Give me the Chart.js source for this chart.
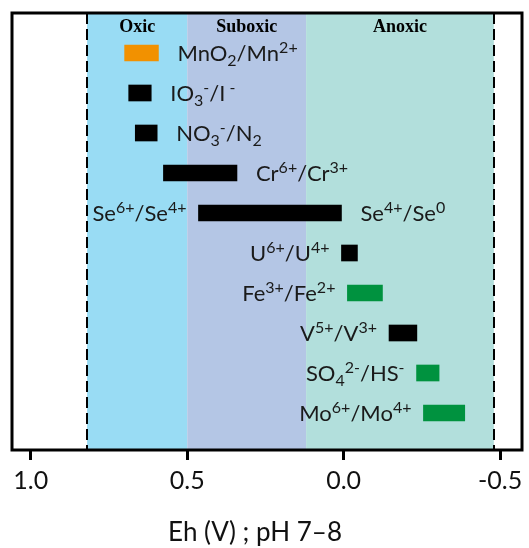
<!DOCTYPE html>
<html><head><meta charset="utf-8">
<script src="https://cdn.jsdelivr.net/npm/chart.js@4.4.1/dist/chart.umd.min.js"></script>
<style>html,body{margin:0;padding:0;background:#fff}#wrap{width:529px;height:548px}</style>
</head><body><div id="wrap"><canvas id="c" width="529" height="548"></canvas></div>
<script>
// ---- data ----
const couples = ["MnO2/Mn2+","IO3-/I-","NO3-/N2","Cr6+/Cr3+","Se6+/Se4+/Se0","U6+/U4+","Fe3+/Fe2+","V5+/V3+","SO42-/HS-","Mo6+/Mo4+"];
const ehHigh = [0.70, 0.687, 0.666, 0.576, 0.464, 0.007, -0.012, -0.145, -0.233, -0.255];
const ehLow  = [0.592, 0.615, 0.596, 0.341, 0.007, -0.044, -0.124, -0.234, -0.305, -0.387];
const barColors = ["#F29100","#000000","#000000","#000000","#000000","#000000","#00923F","#000000","#00923F","#00923F"];
const labelsRight = ["MnO_{2}/Mn^{2+}","IO_{3}^{-}/I^{ -}","NO_{3}^{-}/N_{2}","Cr^{6+}/Cr^{3+}","Se^{4+}/Se^{0}","","","","",""];
const labelsLeft  = ["","","","","Se^{6+}/Se^{4+}","U^{6+}/U^{4+}","Fe^{3+}/Fe^{2+}","V^{5+}/V^{3+}","SO_{4}^{2-}/HS^{-}","Mo^{6+}/Mo^{4+}"];
const zoneNames = ["Oxic","Suboxic","Anoxic"];
const zoneEdges = [0.82, 0.50, 0.12, -0.48];
const zoneColors = ["#99DCF4","#B4C6E5","#B2DFDC"];
const xTicks = [1.0, 0.5, 0.0, -0.5];
const xTitle = "Eh (V) ; pH 7\u20138";

const LABEL_FONT = "Lato";
const MAIN = 22, SMALL = 16;

function parseRich(s){
  const out=[]; let i=0, buf="";
  while(i<s.length){
    const ch=s[i];
    if((ch==='_'||ch==='^') && s[i+1]==='{'){
      if(buf){out.push({t:buf,m:'n'});buf="";}
      const end=s.indexOf('}',i);
      out.push({t:s.slice(i+2,end),m:ch==='_'?'sub':'sup'});
      i=end+1;
    } else {buf+=ch;i++;}
  }
  if(buf) out.push({t:buf,m:'n'});
  return out;
}
function richWidth(ctx,tokens){
  let w=0;
  for(const tk of tokens){
    ctx.font=(tk.m==='n'?MAIN:SMALL)+"px "+LABEL_FONT;
    w+=ctx.measureText(tk.t).width;
  }
  return w;
}
function drawRich(ctx,tokens,x,y){
  for(const tk of tokens){
    const sz = tk.m==='n'?MAIN:SMALL;
    ctx.font=sz+"px "+LABEL_FONT;
    const dy = tk.m==='sup'?-8:(tk.m==='sub'?5:0);
    ctx.fillText(tk.t,x,y+dy);
    x+=ctx.measureText(tk.t).width;
  }
}

const decor = {
  id:'decor',
  beforeDatasetsDraw(chart){
    const {ctx, chartArea:a, scales:{x}} = chart;
    ctx.save();
    for(let i=0;i<zoneNames.length;i++){
      const x0=x.getPixelForValue(zoneEdges[i]), x1=x.getPixelForValue(zoneEdges[i+1]);
      ctx.fillStyle=zoneColors[i];
      ctx.fillRect(x0,a.top,x1-x0,a.bottom-a.top);
    }
    ctx.strokeStyle="#000"; ctx.lineWidth=2; ctx.setLineDash([11,5]);
    for(const v of [zoneEdges[0], zoneEdges[zoneEdges.length-1]]){
      const px=Math.round(x.getPixelForValue(v));
      ctx.beginPath(); ctx.moveTo(px,a.top); ctx.lineTo(px,a.bottom); ctx.stroke();
    }
    ctx.setLineDash([]);
    ctx.fillStyle="#000"; ctx.font="bold 18px 'Liberation Serif'";
    ctx.textAlign="center"; ctx.textBaseline="middle";
    for(let i=0;i<zoneNames.length;i++){
      const cx=(x.getPixelForValue(zoneEdges[i])+x.getPixelForValue(zoneEdges[i+1]))/2;
      ctx.fillText(zoneNames[i],cx,a.top+14);
    }
    ctx.restore();
  },
  afterDatasetsDraw(chart){
    const {ctx, chartArea:a, scales:{x,y}} = chart;
    ctx.save(); ctx.fillStyle="#1a1a1a"; ctx.textAlign="left"; ctx.textBaseline="alphabetic";
    for(let i=0;i<couples.length;i++){
      const cy=y.getPixelForValue(i)+7.5;
      if(labelsRight[i]){
        const t=parseRich(labelsRight[i]);
        drawRich(ctx,t,x.getPixelForValue(ehLow[i])+19,cy);
      }
      if(labelsLeft[i]){
        const t=parseRich(labelsLeft[i]);
        const w=richWidth(ctx,t);
        drawRich(ctx,t,x.getPixelForValue(ehHigh[i])-12-w,cy);
      }
    }
    // axis title
    ctx.font="26px "+LABEL_FONT; ctx.textAlign="center"; ctx.textBaseline="middle"; ctx.fillStyle="#111";
    ctx.fillText(xTitle,(a.left+a.right)/2-12,533);
    ctx.restore();
  },
  afterDraw(chart){
    const {ctx, chartArea:a} = chart;
    ctx.save(); ctx.strokeStyle="#000"; ctx.lineWidth=3;
    ctx.strokeRect(a.left,a.top,a.right-a.left,a.bottom-a.top);
    ctx.restore();
  }
};

new Chart(document.getElementById('c'),{
  type:'bar',
  data:{datasets:[{
    data: couples.map((c,i)=>({y:i, x:[ehLow[i], ehHigh[i]]})),
    backgroundColor: barColors,
    borderWidth:0,
    barThickness:16
  }]},
  options:{
    indexAxis:'y',
    responsive:false,
    animation:false,
    layout:{padding:{left:12,right:7,top:13,bottom:0}},
    plugins:{legend:{display:false},tooltip:{enabled:false}},
    scales:{
      y:{type:'linear',display:false,reverse:true,offset:false,min:-1,max:9.925},
      x:{type:'linear',reverse:true,offset:false,min:-0.57,max:1.06,
        afterBuildTicks(s){ s.ticks = xTicks.map(v=>({value:v})); },
        afterFit(s){ s.height = 98; },
        border:{display:false},
        grid:{drawOnChartArea:false,drawTicks:true,tickLength:10,color:'#000',lineWidth:3},
        ticks:{color:'#111',font:{family:LABEL_FONT,size:25},padding:6,
          callback:(v)=>Number(v).toFixed(1)},
        title:{display:false}
      }
    }
  },
  plugins:[decor]
});
</script></body></html>
